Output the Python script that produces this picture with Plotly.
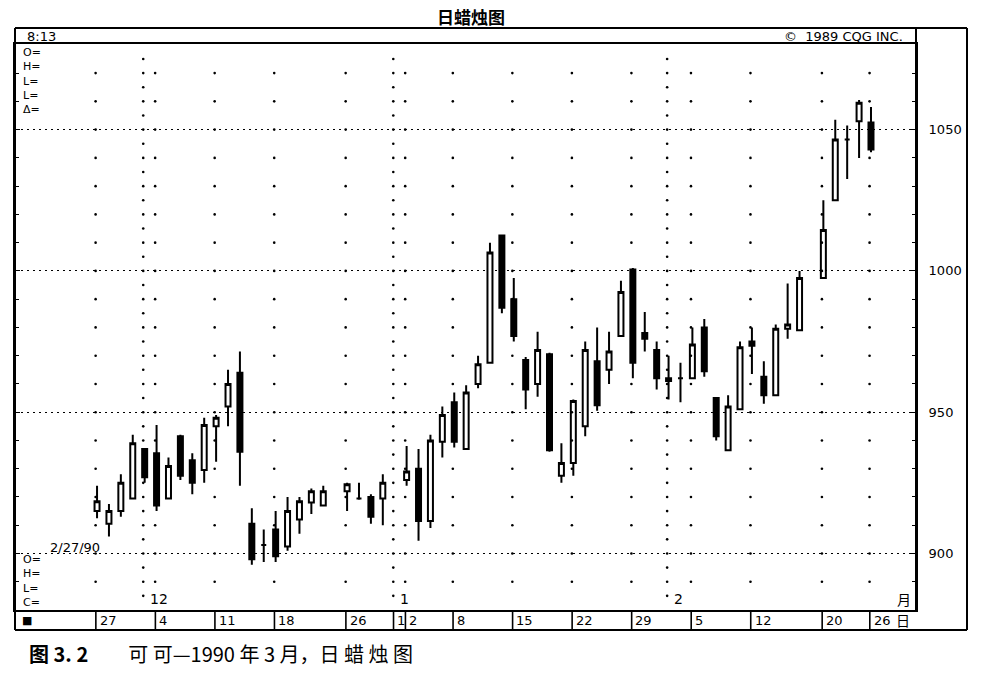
import plotly.graph_objects as go

# cocoa, March 1990 contract - daily candles, 27 Nov 1989 .. 26 Feb 1990
# x is a trading-day slot (holidays keep an empty slot, like the CQG chart)
slots = [0, 1, 2, 3, 4, 5, 6, 7, 8, 9, 10, 11, 12, 13, 14, 15, 16, 17, 18, 19,
         21, 22, 23, 24, 26, 27, 28, 29, 30, 31, 32, 33, 34, 35, 36, 37, 38, 39,
         40, 41, 42, 43, 44, 45, 46, 47, 48, 49, 50, 51, 52, 53, 54, 55, 56, 57,
         58, 59, 61, 62, 63, 64, 65]
dates = ["11/27", "11/28", "11/29", "11/30", "12/1", "12/4", "12/5", "12/6", "12/7", "12/8",
         "12/11", "12/12", "12/13", "12/14", "12/15", "12/18", "12/19", "12/20", "12/21", "12/22",
         "12/26", "12/27", "12/28", "12/29", "1/2", "1/3", "1/4", "1/5", "1/8", "1/9",
         "1/10", "1/11", "1/12", "1/15", "1/16", "1/17", "1/18", "1/19", "1/22", "1/23",
         "1/24", "1/25", "1/26", "1/29", "1/30", "1/31", "2/1", "2/2", "2/5", "2/6",
         "2/7", "2/8", "2/9", "2/12", "2/13", "2/14", "2/15", "2/16", "2/20", "2/21",
         "2/22", "2/23", "2/26"]
opens = [915, 910.5, 915, 919.5, 937, 935.5, 919.5, 941.5, 933, 929.5,
         945, 952, 964, 910.5, 903, 908.5, 902.5, 912, 918, 917,
         922, 919.5, 920, 919.5, 926, 930, 911.5, 939.5, 953.5, 937,
         960, 967.5, 1012.5, 990, 968.5, 960, 970.5, 927.5, 932, 945,
         968, 965, 977, 1000.5, 978, 972, 962, 962, 962, 980,
         955, 936.5, 951, 975, 962.5, 956, 979.5, 979, 997.5, 1025,
         1046.5, 1053, 1052.5]
highs = [924, 917.5, 928, 942, 937, 945.5, 934, 942, 935.5, 948,
         949, 965, 971.5, 916, 908.5, 915, 920, 920, 923, 924,
         925, 925, 921, 928, 938, 937, 942, 952, 957, 959.5,
         970, 1010, 1012.5, 997.5, 969.5, 978.5, 971, 939, 954.5, 975,
         980, 978.5, 996.5, 1001, 985.5, 975, 970, 967.5, 980, 983,
         955, 956, 975, 980, 968, 981, 995.5, 1000, 1025, 1053.5,
         1051.5, 1060.5, 1058]
lows = [912.5, 906, 913, 919.5, 925, 915, 919.5, 926, 921, 925,
        932.5, 945, 924, 896, 897, 897, 901, 907, 914, 917,
        915, 919, 910.5, 910, 924, 904.5, 909, 934, 937.5, 937,
        958.5, 967.5, 985, 975, 951, 955.5, 936, 925, 927.5, 941.5,
        950.5, 960, 977, 962, 971.5, 958, 954.5, 953.5, 962, 962.5,
        940, 936.5, 951, 963.5, 953, 956, 976, 979, 997.5, 1025,
        1032.5, 1040, 1042]
closes = [918.5, 915, 925, 939, 927, 917, 931, 927.5, 925, 945.5,
          948, 960, 936, 898, 903, 899, 915, 918.5, 922, 922,
          924.5, 919.5, 913, 925, 929, 911.5, 940, 949, 939.5, 957,
          967, 1006.5, 987, 977, 958, 972, 936.5, 932, 954, 972,
          952.5, 971.5, 992.5, 967.5, 976, 962, 961, 962, 974, 964.5,
          941.5, 952, 973, 973.5, 956, 979.5, 981, 997.5, 1014.5, 1046.5,
          1046.5, 1059.5, 1043]

# date strip under the chart
week_slots = [0, 5, 10, 15, 21, 25, 26, 30, 35, 40, 45, 50, 55, 61, 65]
week_labels = ["27", "4", "11", "18", "26", "1", "2", "8", "15", "22", "29", "5", "12", "20", "26"]
month_slots = [4, 25, 48]
month_labels = ["12", "1", "2"]
price_ticks = [900, 950, 1000, 1050]

X_MIN, X_MAX = -6.89, 68.78
Y_MIN, Y_MAX = 880, 1080.3

FIG_W, FIG_H = 1001, 684

# pixel helpers for the frame around the plot (plot box = 15..916 x 44..610)
def px(x):
    return (x - 15) / 901.0

def py(y):
    return (610 - y) / 566.0


fig = go.Figure()

# sparse dotted columns (weekly every 10, month starts every 5)
dot_x = []
dot_y = []
for s in week_slots:
    if s in month_slots:
        continue
    for p in range(890, 1071, 10):
        dot_x.append(s - 0.12)
        dot_y.append(p)
for s in month_slots:
    for p in range(885, 1076, 5):
        dot_x.append(s - 0.12)
        dot_y.append(p)
fig.add_trace(go.Scatter(x=dot_x, y=dot_y, mode="markers", hoverinfo="skip",
                         marker=dict(color="black", size=2.6, line=dict(width=0)),
                         showlegend=False))

fig.add_trace(go.Candlestick(
    x=slots, open=opens, high=highs, low=lows, close=closes,
    text=dates, whiskerwidth=0,
    increasing=dict(fillcolor="white", line=dict(color="black", width=2)),
    decreasing=dict(fillcolor="black", line=dict(color="black", width=2)),
    showlegend=False))

# frame pieces outside the plot box
frame = [
    (px(15), py(28), px(967), py(28)),
    (px(967), py(28), px(967), py(630)),
    (px(15), py(630), px(967), py(630)),
    (px(15), py(28), px(15), py(630)),
    (px(916), py(610), px(916), py(28)),
]
for x0, y0, x1, y1 in frame:
    fig.add_shape(type="line", xref="paper", yref="paper", x0=x0, y0=y0, x1=x1, y1=y1,
                  line=dict(color="black", width=2))

# date strip boxes and labels
for s, lab in zip(week_slots, week_labels):
    fig.add_shape(type="line", xref="x", yref="paper", x0=s - 0.1, x1=s - 0.1,
                  y0=py(610), y1=py(630), line=dict(color="black", width=1.6))
    fig.add_annotation(x=s + 0.05, y=py(620), xref="x", yref="paper", text=lab,
                       showarrow=False, xanchor="left", yanchor="middle",
                       font=dict(size=13, color="black"))
fig.add_annotation(x=px(20), y=py(620), xref="paper", yref="paper", text="■",
                   showarrow=False, xanchor="left", yanchor="middle",
                   font=dict(size=11, color="black"))
fig.add_annotation(x=px(912), y=py(620), xref="paper", yref="paper", text="日",
                   showarrow=False, xanchor="right", yanchor="middle",
                   font=dict(size=14, color="black", family="Noto Sans CJK SC"))

# month markers
for s, lab in zip(month_slots, month_labels):
    fig.add_annotation(x=s + 0.25, y=py(599), xref="x", yref="paper", text=lab,
                       showarrow=False, xanchor="left", yanchor="middle",
                       font=dict(size=14, color="black"))
fig.add_annotation(x=px(913), y=py(599), xref="paper", yref="paper", text="月",
                   showarrow=False, xanchor="right", yanchor="middle",
                   font=dict(size=14, color="black", family="Noto Sans CJK SC"))

# header band
fig.add_annotation(x=px(25), y=py(37), xref="paper", yref="paper", text="8:13",
                   showarrow=False, xanchor="left", yanchor="middle",
                   font=dict(size=13, color="black"))
fig.add_annotation(x=px(905), y=py(37), xref="paper", yref="paper",
                   text="©  1989 CQG INC.", showarrow=False, xanchor="right",
                   yanchor="middle", font=dict(size=13, color="black"))

# quote readout placeholders
fig.add_annotation(x=px(21), y=py(81), xref="paper", yref="paper",
                   text="O=<br>H=<br>L=<br>L=<br>Δ=", showarrow=False,
                   xanchor="left", yanchor="middle", align="left",
                   font=dict(size=11, color="black"))
fig.add_annotation(x=px(21), y=py(581), xref="paper", yref="paper",
                   text="O=<br>H=<br>L=<br>C=", showarrow=False,
                   xanchor="left", yanchor="middle", align="left",
                   font=dict(size=11, color="black"))
fig.add_annotation(x=px(48), y=py(547), xref="paper", yref="paper", text="2/27/90",
                   showarrow=False, xanchor="left", yanchor="middle",
                   font=dict(size=13, color="black"))

# caption under the chart
fig.add_annotation(x=px(27), y=py(653), xref="paper", yref="paper",
                   text="<b>图 3. 2</b>　　可 可—1990 年 3 月，日 蜡 烛 图", showarrow=False,
                   xanchor="left", yanchor="middle",
                   font=dict(size=20, color="black", family="Noto Sans CJK SC"))

# chart title, as an annotation so it can sit right at the top edge
fig.add_annotation(x=px(471), y=py(2), xref="paper", yref="paper",
                   text="<b>日蜡烛图</b>", showarrow=False, xanchor="center",
                   yanchor="top", font=dict(size=17, color="black",
                                            family="Noto Sans CJK SC"))

fig.update_layout(
    width=FIG_W, height=FIG_H,
    margin=dict(l=15, r=FIG_W - 916, t=44, b=FIG_H - 610),
    paper_bgcolor="white", plot_bgcolor="white",
    font=dict(family="DejaVu Sans", color="black"),
    boxgap=0.4,
    showlegend=False,
)
fig.update_xaxes(range=[X_MIN, X_MAX], showticklabels=False, showgrid=False,
                 zeroline=False, showline=True, mirror=True, linecolor="black",
                 linewidth=2, ticks="", rangeslider=dict(visible=False))
fig.update_yaxes(range=[Y_MIN, Y_MAX], side="right", tickvals=price_ticks,
                 showgrid=True, gridcolor="black", gridwidth=1.4, griddash="2px,4px",
                 zeroline=False, showline=True, mirror="allticks", linecolor="black",
                 linewidth=2, ticks="inside", ticklen=5, tickcolor="black",
                 minor=dict(dtick=10, ticks="inside", ticklen=4, tickcolor="black",
                            showgrid=False),
                 ticklabelstandoff=8, tickfont=dict(size=13, color="black"))

# the page body has a default 8px margin; drop it so the figure sits at 0,0
fig.write_html("out.html", config={"displayModeBar": False},
               post_script="document.body.style.margin='0';")
